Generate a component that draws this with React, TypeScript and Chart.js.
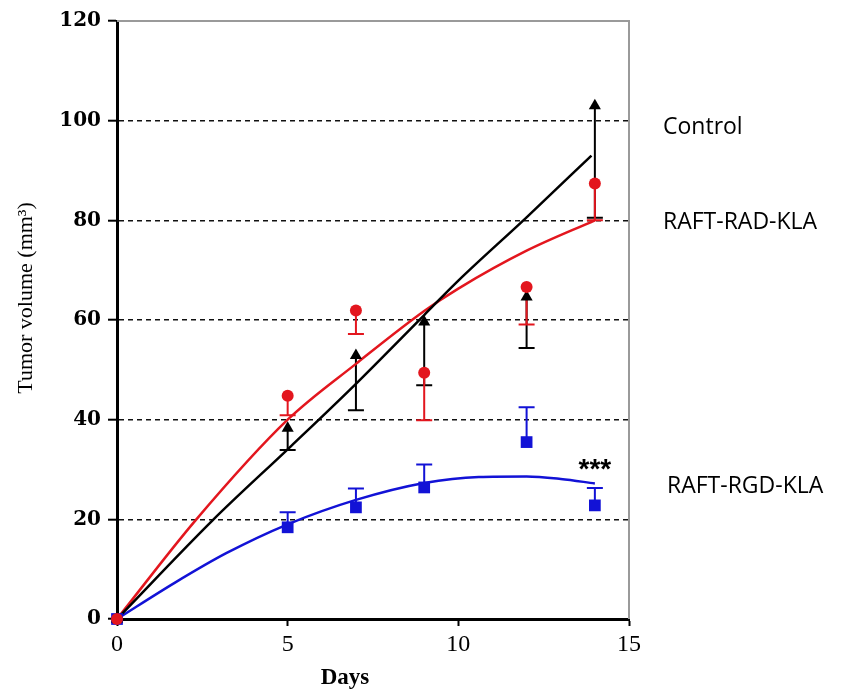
import React, { useEffect, useRef } from 'react';
import { Chart, registerables } from 'chart.js';

Chart.register(...registerables);

// ---- measured data (days / tumor volume mm3) ----
const days = [0, 5, 7, 9, 12, 14];
const controlMean = [0, 38.3, 52.9, 59.6, 64.6, 103];
const controlErrEnd = [0, 33.9, 41.9, 46.9, 54.4, 80.5];
const radMean = [0, 44.8, 61.9, 49.4, 66.6, 87.4];
const radErrEnd = [0, 40.9, 57.2, 39.9, 59.1, 80];
const rgdMean = [0, 18.4, 22.4, 26.4, 35.5, 22.8];
const rgdErrEnd = [0, 21.4, 26.2, 31.0, 42.5, 26.3];

// fitted trend curves
const controlFitDays = [0, 2.8, 5.1, 7, 9, 10, 12, 13.9];
const controlFit = [0, 19.8, 34.7, 47.2, 61, 67.9, 80.6, 93];
const radFitDays = [0, 2.3, 5, 7, 9, 10, 12, 14];
const radFit = [0, 19.8, 40, 51.2, 61.8, 66.3, 73.9, 80];
const rgdFitDays = [0, 1.7, 3.2, 5, 7, 9, 10.6, 12, 13, 14];
const rgdFit = [0, 7.3, 13.2, 19, 23.9, 27.3, 28.5, 28.6, 28.1, 27.2];

const seriesNames = ['Control', 'RAFT-RAD-KLA', 'RAFT-RGD-KLA'];
const seriesLabelValues = [98.6, 79.6, 26.5];
const significance = { day: 14, value: 28.2, text: '***' };

const xRange = { min: 0, max: 15, step: 5 };
const yRange = { min: 0, max: 120, step: 20 };
const xTitle = 'Days';
const yTitle = 'Tumor volume (mm\u00B3)';

const BLACK = '#000000';
const RED = '#e3161e';
const BLUE = '#1212d6';

const pts = (xs: number[], ys: number[]) => xs.map((x, i) => ({ x, y: ys[i] }));

const errorBarPlugin = {
  id: 'errorBars',
  beforeDatasetsDraw(chart: any, _args: any, opts: any) {
    const { ctx } = chart;
    const xs = chart.scales.x;
    const ys = chart.scales.y;
    (opts.series || []).forEach((s: any) => {
      ctx.save();
      ctx.strokeStyle = s.color;
      ctx.lineWidth = 2;
      s.means.forEach((m: number, j: number) => {
        const e = s.ends[j];
        if (e == null || e === m) return;
        const px = xs.getPixelForValue(s.days[j]);
        const pm = ys.getPixelForValue(m);
        const pe = ys.getPixelForValue(e);
        ctx.beginPath();
        ctx.moveTo(px, pm);
        ctx.lineTo(px, pe);
        ctx.moveTo(px - 8, pe);
        ctx.lineTo(px + 8, pe);
        ctx.stroke();
      });
      ctx.restore();
    });
  },
};

const framePlugin = {
  id: 'frame',
  beforeDatasetsDraw(chart: any) {
    const { ctx, chartArea } = chart;
    ctx.save();
    ctx.strokeStyle = '#9a9a9a';
    ctx.lineWidth = 2;
    ctx.beginPath();
    ctx.moveTo(chartArea.left, chartArea.top);
    ctx.lineTo(chartArea.right, chartArea.top);
    ctx.lineTo(chartArea.right, chartArea.bottom);
    ctx.stroke();
    ctx.restore();
  },
};

const textPlugin = {
  id: 'texts',
  afterDraw(chart: any) {
    const { ctx, chartArea } = chart;
    const ys = chart.scales.y;
    const xs = chart.scales.x;
    ctx.save();
    ctx.fillStyle = '#000';
    // y title
    ctx.save();
    ctx.translate(chartArea.left - 91, chartArea.top + 277);
    ctx.rotate(-Math.PI / 2);
    ctx.font = '22px "Liberation Serif", "Times New Roman", serif';
    ctx.textAlign = 'center';
    ctx.textBaseline = 'middle';
    ctx.fillText(yTitle, 0, 0);
    ctx.restore();
    // x title
    ctx.font = 'bold 23px "Liberation Serif", "Times New Roman", serif';
    ctx.textAlign = 'center';
    ctx.textBaseline = 'alphabetic';
    ctx.fillText(xTitle, chartArea.left + 228, chartArea.bottom + 65);
    // series labels
    ctx.font = '23px "Open Sans", sans-serif';
    ctx.textAlign = 'left';
    ctx.textBaseline = 'middle';
    seriesNames.forEach((n, i) => {
      const off = i === 2 ? 38 : 34;
      ctx.fillText(n, chartArea.right + off, ys.getPixelForValue(seriesLabelValues[i]));
    });
    // significance
    ctx.font = 'bold 28px "Liberation Sans", Arial, sans-serif';
    ctx.textAlign = 'center';
    ctx.textBaseline = 'alphabetic';
    ctx.fillText(significance.text, xs.getPixelForValue(significance.day), ys.getPixelForValue(significance.value));
    ctx.restore();
  },
};

export default function App() {
  const ref = useRef<HTMLCanvasElement | null>(null);
  useEffect(() => {
    document.body.style.margin = '0';
    const canvas = ref.current;
    if (!canvas) return;
    const chart = new Chart(canvas, {
      type: 'scatter',
      data: {
        datasets: [
          {
            label: 'RAFT-RAD-KLA',
            data: pts(days, radMean),
            pointStyle: 'circle',
            pointRadius: 6,
            backgroundColor: RED,
            borderColor: RED,
            borderWidth: 0,
            clip: false,
          },
          {
            label: 'Control',
            data: pts(days, controlMean),
            pointStyle: 'triangle',
            pointRadius: 7,
            backgroundColor: BLACK,
            borderColor: BLACK,
            borderWidth: 0,
            clip: false,
          },
          {
            label: 'RAFT-RGD-KLA',
            data: pts(days, rgdMean),
            pointStyle: 'rect',
            pointRadius: 8.3,
            backgroundColor: BLUE,
            borderColor: BLUE,
            borderWidth: 0,
            clip: false,
          },
          {
            label: 'Control fit',
            data: pts(controlFitDays, controlFit),
            showLine: true,
            pointRadius: 0,
            borderColor: BLACK,
            borderWidth: 2.5,
            cubicInterpolationMode: 'monotone',
          },
          {
            label: 'RAFT-RAD-KLA fit',
            data: pts(radFitDays, radFit),
            showLine: true,
            pointRadius: 0,
            borderColor: RED,
            borderWidth: 2.5,
            cubicInterpolationMode: 'monotone',
          },
          {
            label: 'RAFT-RGD-KLA fit',
            data: pts(rgdFitDays, rgdFit),
            showLine: true,
            pointRadius: 0,
            borderColor: BLUE,
            borderWidth: 2.5,
            cubicInterpolationMode: 'monotone',
          },
        ] as any,
      },
      options: {
        animation: false,
        responsive: false,
        layout: { padding: { left: 0, top: 21, right: 213, bottom: 0 } },
        plugins: {
          legend: { display: false },
          tooltip: { enabled: false },
          errorBars: {
            series: [
              { days, means: controlMean, ends: controlErrEnd, color: BLACK },
              { days, means: rgdMean, ends: rgdErrEnd, color: BLUE },
              { days, means: radMean, ends: radErrEnd, color: RED },
            ],
          },
        } as any,
        scales: {
          x: {
            type: 'linear',
            min: xRange.min,
            max: xRange.max,
            afterFit: (s: any) => { s.height = 79; },
            ticks: {
              stepSize: xRange.step,
              color: '#000',
              padding: 4,
              font: { family: '"Liberation Serif", "Times New Roman", serif', size: 24 },
            },
            grid: {
              drawOnChartArea: false,
              drawTicks: true,
              tickLength: 7,
              tickColor: '#000',
              tickWidth: 2,
            },
            border: { display: true, color: '#000', width: 3 },
          },
          y: {
            type: 'linear',
            min: yRange.min,
            max: yRange.max,
            afterFit: (s: any) => { s.width = 117; },
            ticks: {
              stepSize: yRange.step,
              color: '#000',
              padding: 7,
              font: { family: '"DejaVu Serif", serif', size: 20, weight: 'bold' },
            },
            grid: {
              color: (c: any) => (c.tick && (c.tick.value === yRange.min || c.tick.value === yRange.max) ? 'rgba(0,0,0,0)' : '#111'),
              lineWidth: 1.4,
              drawTicks: true,
              tickLength: 9,
              tickColor: '#000',
              tickWidth: 2,
              tickBorderDash: [],
            },
            border: { display: true, color: '#000', width: 3, dash: [5, 4] },
          },
        },
      } as any,
      plugins: [framePlugin, errorBarPlugin, textPlugin],
    });
    return () => chart.destroy();
  }, []);
  return (
    <div style={{ width: 842, height: 698 }}>
      <canvas ref={ref} width={842} height={698} style={{ display: 'block' }} />
    </div>
  );
}
